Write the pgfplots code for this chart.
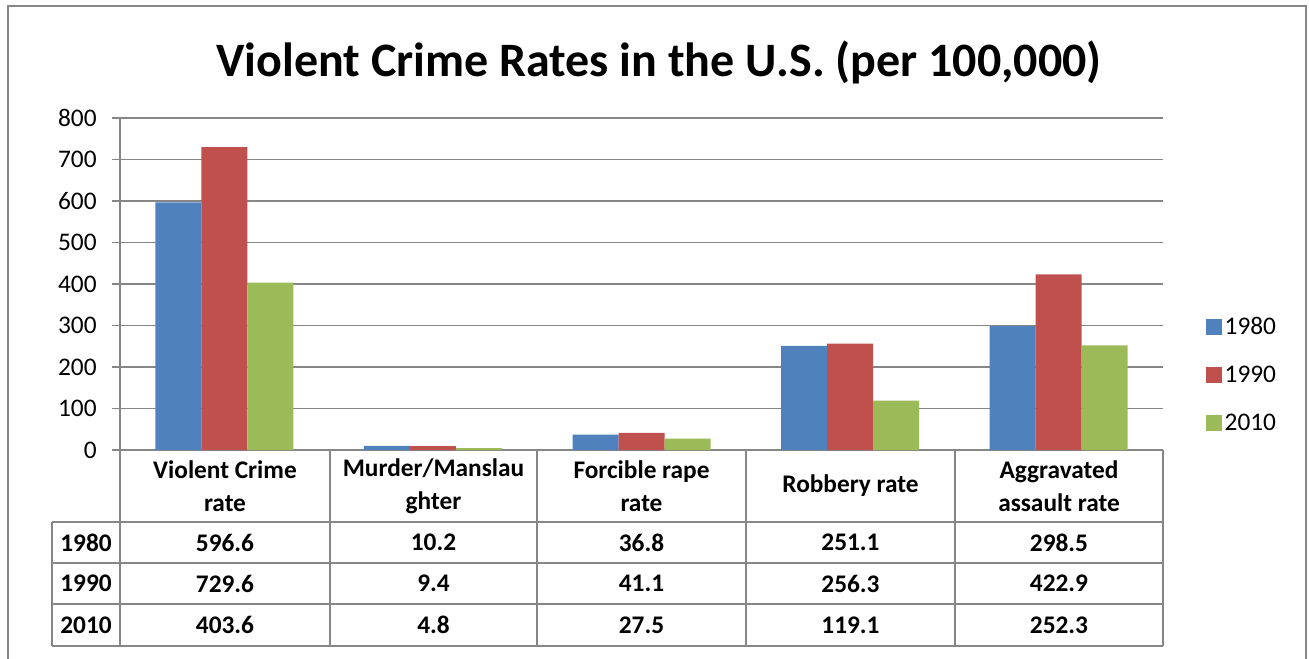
\documentclass[border=0pt]{standalone}
\usepackage{pgfplots}
\pgfplotsset{compat=1.18}
\usepackage{fontspec}
\setmainfont{Carlito}
\definecolor{c80}{RGB}{79,129,189}
\definecolor{c90}{RGB}{192,80,77}
\definecolor{c10}{RGB}{155,187,89}
\definecolor{frame}{RGB}{134,134,134}
\newcommand{\fs}{\fontsize{19}{24.75}\selectfont}
\begin{document}
\begin{tikzpicture}
\useasboundingbox (0,0) rectangle (981.75pt,493.5pt);
\begin{axis}[
  at={(90pt,156pt)}, anchor=south west,
  scale only axis, width=782.25pt, height=249pt,
  xmin=-0.5, xmax=4.5, ymin=0, ymax=800,
  ytick={0,100,...,800}, xtick=\empty,
  ybar=0pt, bar width=34.5pt,
  axis lines=left, axis line style={-, draw=frame, line width=0.8pt},
  tick align=outside, major tick length=6pt,
  tick style={draw=frame, line width=0.8pt},
  ymajorgrids, grid style={draw=frame, line width=0.8pt},
  clip=false,
  ticklabel style={font=\fs},
  yticklabel style={xshift=-8pt},
  /pgf/number format/assume math mode=true,
  legend style={at={(1.041,0.226)}, anchor=west, draw=none, fill=none,
    font=\fs, row sep=18pt, inner sep=0pt, legend cell align=left},
  sq/.style={legend image code/.code={\fill[##1,draw=none] (0pt,-6pt) rectangle (12pt,6pt);}},
]
\addplot[fill=c80, draw=none, sq] coordinates {(0,596.6) (1,10.2) (2,36.8) (3,251.1) (4,298.5)};
\addplot[fill=c90, draw=none, sq] coordinates {(0,729.6) (1,9.4) (2,41.1) (3,256.3) (4,422.9)};
\addplot[fill=c10, draw=none, sq] coordinates {(0,403.6) (1,4.8) (2,27.5) (3,119.1) (4,252.3)};
\legend{1980,1990,2010}
\end{axis}
\begin{scope}[x=0.75pt, y=-0.75pt, shift={(0pt,493.5pt)}]
  % outer frame
  \draw[frame, line width=0.8pt] (8,6) rectangle (1306,720);
  \node[font=\fontsize{36}{42}\selectfont\bfseries] at (659,62) {Violent Crime Rates in the U.S. (per 100,000)};
  % data table
  \begin{scope}[frame, line width=0.8pt]
    \foreach \x in {120,330,537,746,955,1163} \draw (\x,450) -- (\x,646);
    \draw (52,522) -- (52,646);
    \foreach \y in {522,563,604,646} \draw (52,\y) -- (1163,\y);
  \end{scope}
  \begin{scope}[every node/.style={font=\fs\bfseries, align=center, text=black}]
    \node at (225,486) {Violent Crime\\rate};
    \node at (433.5,486) {Murder/Manslau\\ghter};
    \node at (641.5,486) {Forcible rape\\rate};
    \node at (850.5,486) {Robbery rate};
    \node at (1059,486) {Aggravated\\assault rate};
    \node at (86,542.5) {1980};
    \node at (86,583.5) {1990};
    \node at (86,625) {2010};
    \node at (225,542.5) {596.6};   \node at (225,583.5) {729.6};   \node at (225,625) {403.6};
    \node at (433.5,542.5) {10.2};  \node at (433.5,583.5) {9.4};   \node at (433.5,625) {4.8};
    \node at (641.5,542.5) {36.8};  \node at (641.5,583.5) {41.1};  \node at (641.5,625) {27.5};
    \node at (850.5,542.5) {251.1}; \node at (850.5,583.5) {256.3}; \node at (850.5,625) {119.1};
    \node at (1059,542.5) {298.5};  \node at (1059,583.5) {422.9};  \node at (1059,625) {252.3};
  \end{scope}
\end{scope}
\end{tikzpicture}
\end{document}
